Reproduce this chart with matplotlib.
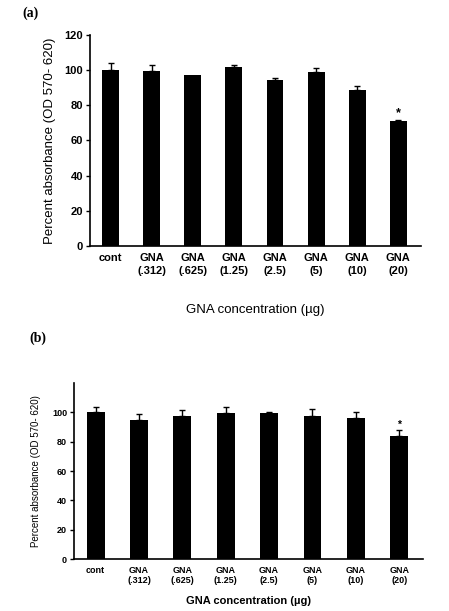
import matplotlib
matplotlib.use("Agg")
import matplotlib.pyplot as plt
import numpy as np

# ── Data ──────────────────────────────────────────────────────────────────────
labels = ["cont", "GNA\n(.312)", "GNA\n(.625)", "GNA\n(1.25)", "GNA\n(2.5)",
          "GNA\n(5)", "GNA\n(10)", "GNA\n(20)"]

a_mean = [100, 99.5, 97.5, 102, 94.5, 99, 89, 71]
a_err = [4, 3.5, 0, 0.8, 0.8, 2.5, 2, 0.5]

b_mean = [100, 94.8, 97.3, 99.4, 99.4, 97.7, 96.1, 83.6]
b_err = [3.5, 4, 4.2, 4.2, 0.6, 4.5, 4, 4.5]

star_idx = 7


def panel(ax, mean, err, yticks, tick_fs, spacing, star_off):
    x = np.arange(len(mean))
    mean = np.array(mean)
    err = np.array(err)
    ax.bar(x, mean, width=0.41, color="black", zorder=2)
    has = err > 0
    ax.errorbar(x[has], mean[has], yerr=[np.zeros(has.sum()), err[has]],
                fmt="none", ecolor="black", elinewidth=1, capsize=2,
                capthick=1, zorder=1)
    ax.text(x[star_idx], mean[star_idx] + err[star_idx] + star_off, "*",
            ha="center", va="bottom", fontsize=tick_fs + 1, fontweight="bold")
    ax.set_xlim(-0.5, 7.55)
    ax.set_ylim(0, 120)
    ax.set_yticks(yticks)
    ax.set_xticks(x)
    ax.set_xticklabels(labels, fontsize=tick_fs, fontweight="bold",
                       linespacing=spacing)
    ax.tick_params(axis="x", length=0, pad=5)
    ax.tick_params(axis="y", length=3, width=1, labelsize=tick_fs, pad=2)
    for t in ax.get_yticklabels():
        t.set_fontweight("bold")
    for s in ("top", "right"):
        ax.spines[s].set_visible(False)
    for s in ("left", "bottom"):
        ax.spines[s].set_linewidth(1.2)


plt.rcParams["font.family"] = ["Liberation Sans", "DejaVu Sans"]

fig = plt.figure(figsize=(4.49, 6.11), dpi=100)

ax1 = fig.add_axes([0.2004, 0.5974, 0.7372, 0.3453])
panel(ax1, a_mean, a_err, [0, 20, 40, 60, 80, 100, 120], 8, 1.35, 0.5)
ax1.set_ylabel("Percent absorbance (OD 570- 620)", fontsize=9.5, labelpad=6)
ax1.set_xlabel("GNA concentration (µg)", fontsize=9.5, labelpad=20)

ax2 = fig.add_axes([0.1648, 0.0851, 0.7773, 0.288])
panel(ax2, b_mean, b_err, [0, 20, 40, 60, 80, 100], 6.5, 1.15, 0.2)
ax2.set_ylabel("Percent absorbance (OD 570- 620)", fontsize=7, labelpad=8)
ax2.set_xlabel("GNA concentration (µg)", fontsize=8, fontweight="bold",
               labelpad=8)

fig.text(0.05, 0.978, "(a)", fontsize=10, fontweight="bold",
         family="Liberation Serif", va="center")
fig.text(0.065, 0.447, "(b)", fontsize=10, fontweight="bold",
         family="Liberation Serif", va="center")

fig.savefig("out.png", dpi=100)
